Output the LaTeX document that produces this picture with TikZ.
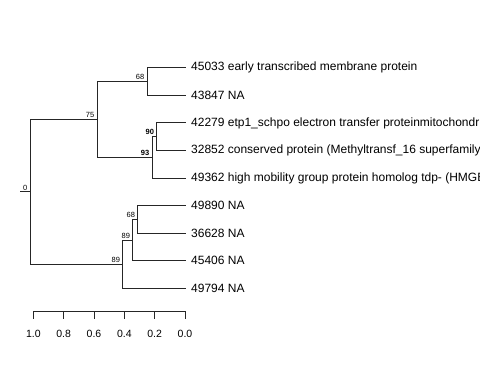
\documentclass[tikz,border=0pt]{standalone}
\usepackage{fontspec}
\setmainfont{Liberation Sans}
\usetikzlibrary{positioning}
\tikzset{
	branch/.style={line width=0.9pt, black!85},
	tiplabel/.style={anchor=west, inner sep=0pt, xshift=5.5pt, font=\fontsize{12}{14}\selectfont},
	boot/.style={anchor=south east, inner sep=0pt, xshift=-2.5pt, yshift=1.5pt, font=\fontsize{7.5}{9}\selectfont},
	bootbf/.style={boot, font=\fontsize{7.5}{9}\selectfont\bfseries},
	scalelabel/.style={inner sep=0pt, font=\fontsize{10.5}{12}\selectfont}
}

\begin{document}
\begin{tikzpicture}[x=1pt, y=-1pt]
		%%%%% START %%%%%
		\useasboundingbox (0, 0) rectangle (480, 384);
		\clip (0, 0) rectangle (480, 384);
		
		% tips
		\coordinate (t45033) at (185.5, 67.7);
		\coordinate (t43847) at (185.5, 95.3);
		\coordinate (t42279) at (185.5, 122.9);
		\coordinate (t32852) at (185.5, 150.4);
		\coordinate (t49362) at (185.5, 178.0);
		\coordinate (t49890) at (185.5, 205.6);
		\coordinate (t36628) at (185.5, 233.2);
		\coordinate (t45406) at (185.5, 260.7);
		\coordinate (t49794) at (185.5, 288.3);
		
		% inner nodes
		\coordinate (nroot) at (30, 191.8);
		\coordinate (n75) at (97, 119.4);
		\coordinate (n68a) at (147, 81.5);
		\coordinate (n93) at (152, 157.3);
		\coordinate (n90) at (156.7, 136.6);
		\coordinate (n89b) at (122.7, 264.2);
		\coordinate (n89a) at (132.7, 240.1);
		\coordinate (n68b) at (137.7, 219.4);
		\coordinate (stub) at (20, 191.8);
		
		% branches
		\draw[branch] (stub) -- (nroot);
		\draw[branch] (nroot) |- (n75);
		\draw[branch] (nroot) |- (n89b);
		\draw[branch] (n75) |- (n68a);
		\draw[branch] (n75) |- (n93);
		\draw[branch] (n68a) |- (t45033);
		\draw[branch] (n68a) |- (t43847);
		\draw[branch] (n93) |- (n90);
		\draw[branch] (n93) |- (t49362);
		\draw[branch] (n90) |- (t42279);
		\draw[branch] (n90) |- (t32852);
		\draw[branch] (n89b) |- (n89a);
		\draw[branch] (n89b) |- (t49794);
		\draw[branch] (n89a) |- (n68b);
		\draw[branch] (n89a) |- (t45406);
		\draw[branch] (n68b) |- (t49890);
		\draw[branch] (n68b) |- (t36628);
		
		% tip labels
		\node[tiplabel] (l45033) at (t45033) {45033 early transcribed membrane protein};
		\node[tiplabel] (l43847) at (t43847) {43847 NA};
		\node[tiplabel] (l42279) at (t42279) {42279 etp1\_schpo electron transfer proteinmitochondrial};
		\node[tiplabel] (l32852) at (t32852) {32852 conserved protein (Methyltransf\_16 superfamily)};
		\node[tiplabel] (l49362) at (t49362) {49362 high mobility group protein homolog tdp- (HMGB)};
		\node[tiplabel] (l49890) at (t49890) {49890 NA};
		\node[tiplabel] (l36628) at (t36628) {36628 NA};
		\node[tiplabel] (l45406) at (t45406) {45406 NA};
		\node[tiplabel] (l49794) at (t49794) {49794 NA};
		
		% support values
		\node[boot] (broot) at (nroot) {0};
		\node[boot] (b75) at (n75) {75};
		\node[boot] (b68a) at (n68a) {68};
		\node[bootbf] (b93) at (n93) {93};
		\node[bootbf] (b90) at (n90) {90};
		\node[boot] (b89b) at (n89b) {89};
		\node[boot] (b89a) at (n89a) {89};
		\node[boot] (b68b) at (n68b) {68};
		
		% scale
		\foreach \v [count=\i from 0] in {1.0, 0.8, 0.6, 0.4, 0.2, 0.0} {
			\coordinate (s\i) at (33.3 + 30.34*\i, 311);
			\draw[branch] (s\i) -- ++(0, 8);
			\node[scalelabel] (sl\i) at (33.3 + 30.34*\i, 333.5) {\v};
		}
		\draw[branch] (s0) -- (s5);
		%%%%% END %%%%%
	\end{tikzpicture}
\end{document}
